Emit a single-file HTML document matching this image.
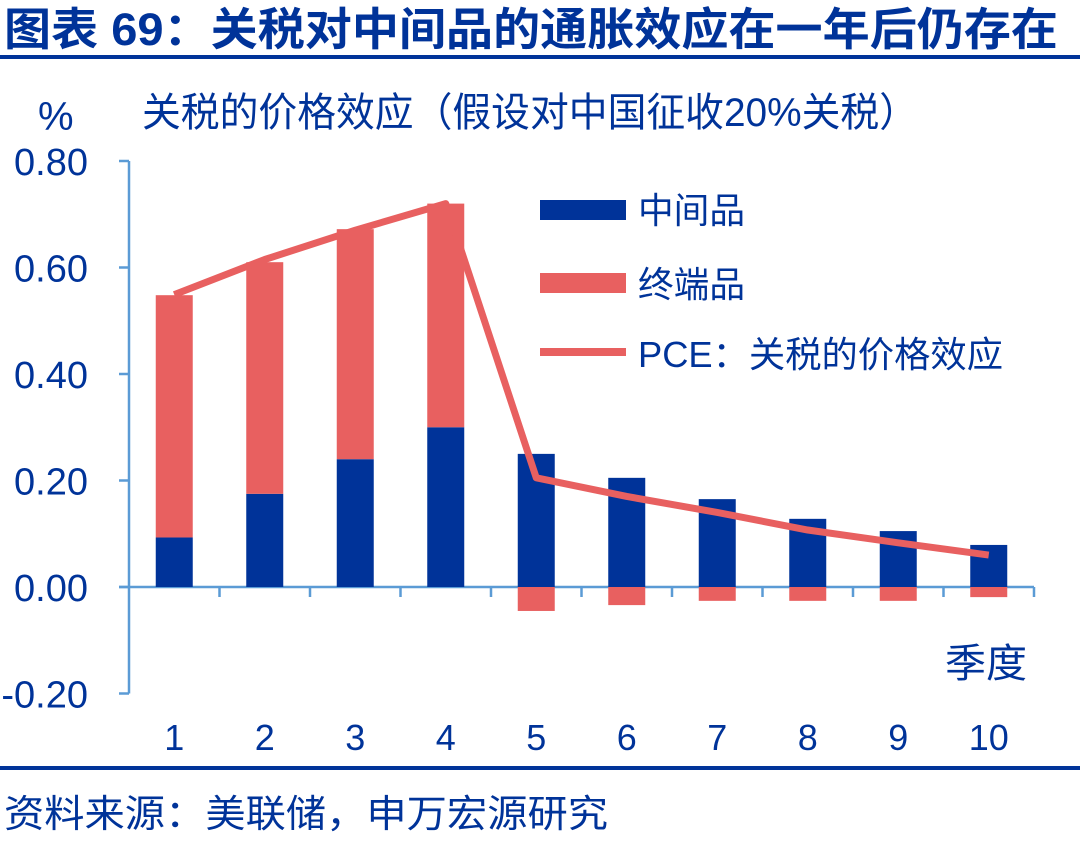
<!DOCTYPE html>
<html><head><meta charset="utf-8">
<style>
body{margin:0;width:1080px;height:837px;background:#fff;overflow:hidden;font-family:"Liberation Sans","Noto Sans CJK SC",sans-serif;}
</style></head>
<body>
<svg id="chart" width="1080" height="837" xmlns="http://www.w3.org/2000/svg" style="font-family:'Liberation Sans','Noto Sans CJK SC',sans-serif">
<text x="4" y="45" font-size="45" font-weight="bold" fill="#003399" textLength="1054" lengthAdjust="spacingAndGlyphs">图表 69：关税对中间品的通胀效应在一年后仍存在</text>
<rect x="0" y="55" width="1080" height="4" fill="#003399"/>
<text x="38" y="130" font-size="40" fill="#003399">%</text>
<text x="142" y="126" font-size="40" fill="#003399" textLength="776" lengthAdjust="spacingAndGlyphs">关税的价格效应（假设对中国征收20%关税）</text>
<g id="axes"></g>
<g id="bars"></g>
<g id="line"></g>
<g>
<rect x="540" y="200" width="86" height="20" fill="#003399"/>
<text x="638" y="223" font-size="36" fill="#003399" textLength="107" lengthAdjust="spacingAndGlyphs">中间品</text>
<rect x="540" y="273" width="86" height="20" fill="#E86060"/>
<text x="638" y="297" font-size="36" fill="#003399" textLength="107" lengthAdjust="spacingAndGlyphs">终端品</text>
<rect x="540" y="348" width="86" height="8" fill="#E86060"/>
<text x="638" y="367" font-size="36" fill="#003399" textLength="365" lengthAdjust="spacingAndGlyphs">PCE：关税的价格效应</text>
</g>
<text x="945" y="677" font-size="40" fill="#003399" textLength="82" lengthAdjust="spacingAndGlyphs">季度</text>
<rect x="0" y="766" width="1080" height="4" fill="#003399"/>
<text x="4" y="827" font-size="38" fill="#003399" textLength="604" lengthAdjust="spacingAndGlyphs">资料来源：美联储，申万宏源研究</text>
</svg>
<script>
const categories=["1","2","3","4","5","6","7","8","9","10"];
const intermediate=[0.093,0.175,0.24,0.30,0.25,0.205,0.165,0.128,0.105,0.079];
const finalGoods=[0.455,0.435,0.432,0.42,-0.045,-0.034,-0.026,-0.026,-0.026,-0.019];
const pce=[0.549,0.615,0.67,0.72,0.205,0.17,0.14,0.107,0.083,0.06];
const yTicks=[0.8,0.6,0.4,0.2,0,-0.2];
const yTickLabels=["0.80","0.60","0.40","0.20","0.00","-0.20"];
const NS="http://www.w3.org/2000/svg";
const x0=129,step=90.5,yZero=587,pxPer=532.5;
const y=v=>yZero-v*pxPer;
const xc=i=>x0+step*(i+0.5);
function mk(tag,attrs,parent){const e=document.createElementNS(NS,tag);for(const k in attrs)e.setAttribute(k,attrs[k]);document.getElementById(parent).appendChild(e);return e;}
const axc="#5B9BD5";
let e=mk("line",{x1:x0,y1:y(0.8),x2:x0,y2:y(-0.2),stroke:axc,"stroke-width":2.5},"axes");


yTicks.forEach((t,i)=>{
 let l=mk("line",{x1:x0-10,y1:y(t),x2:x0,y2:y(t),stroke:axc,"stroke-width":2.5},"axes");
 
 
 let tx=mk("text",{x:88,y:y(t)+14,"font-size":38,fill:"#003399","text-anchor":"end"},"axes");
 tx.textContent=yTickLabels[i];
 
 
});
e=mk("line",{x1:x0-10,y1:yZero,x2:x0+step*categories.length,y2:yZero,stroke:axc,"stroke-width":2.5},"axes");


categories.forEach((c,i)=>{
 let l=mk("line",{x1:x0+step*(i+1),y1:yZero,x2:x0+step*(i+1),y2:yZero+10,stroke:axc,"stroke-width":2.5},"axes");
 
 
 let tx=mk("text",{x:xc(i),y:750,"font-size":36,fill:"#003399","text-anchor":"middle"},"axes");
 tx.textContent=c;
 
 
});
const bw=37;
categories.forEach((c,i)=>{
 const a=intermediate[i];
 let r=mk("rect",{x:xc(i)-bw/2,y:y(Math.max(a,0)),width:bw,height:Math.abs(a)*pxPer,fill:"#003399"},"bars");
 
 
 const f=finalGoods[i];
 let top,h;
 if(f>=0){top=y(a+f);h=f*pxPer;}else{top=yZero;h=-f*pxPer;}
 let r2=mk("rect",{x:xc(i)-bw/2,y:top,width:bw,height:h,fill:"#E86060"},"bars");
 
 
});
const pts=pce.map((v,i)=>xc(i)+","+y(v)).join(" ");
let pl=mk("polyline",{points:pts,fill:"none",stroke:"#E86060","stroke-width":7,"stroke-linejoin":"round"},"line");


</script>
</body></html>
